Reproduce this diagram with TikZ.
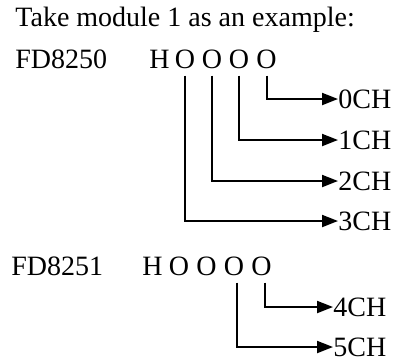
\documentclass[tikz,border=0pt]{standalone}
\usepackage{fontspec}
\setmainfont{Liberation Serif}
\usetikzlibrary{arrows.meta}

\begin{document}
\begin{tikzpicture}[x=0.5pt,y=-0.5pt,
    every node/.style={font=\fontsize{14}{17}\selectfont, inner sep=0pt},
    lbl/.style={anchor=base west},
    chr/.style={anchor=base, inner ysep=3.5pt},
    chn/.style={anchor=west},
    chan/.style={line width=1pt, -{Triangle[length=8pt,width=6pt]}}]
  \useasboundingbox (0,0) rectangle (401,361);
  \node[lbl] (title) at (15,26) {Take module 1 as an example:};
  % module FD8250
  \node[lbl] (m0) at (15,68) {FD8250};
  \node[chr] (h0) at (159.5,68) {H};
  \foreach \i/\x in {1/185,2/212,3/239,4/266.5}
    \node[chr] (a\i) at (\x,68) {O};
  \foreach \k/\y in {0/99,1/140,2/181,3/221}
    \node[chn] (c\k) at (338,\y) {\k CH};
  \foreach \i/\k in {4/0,3/1,2/2,1/3}
    \draw[chan] (a\i.south) |- (c\k.west);
  % module FD8251
  \node[lbl] (m1) at (11,275) {FD8251};
  \node[chr] (h1) at (152.5,275) {H};
  \foreach \i/\x in {1/179,2/206.5,3/234,4/261.5}
    \node[chr] (b\i) at (\x,275) {O};
  \foreach \k/\y in {4/307,5/347}
    \node[chn] (c\k) at (333,\y) {\k CH};
  \draw[chan] ([xshift=1.75pt]b4.south) |- (c4.west);
  \draw[chan] ([xshift=1.5pt]b3.south) |- (c5.west);
\end{tikzpicture}
\end{document}
